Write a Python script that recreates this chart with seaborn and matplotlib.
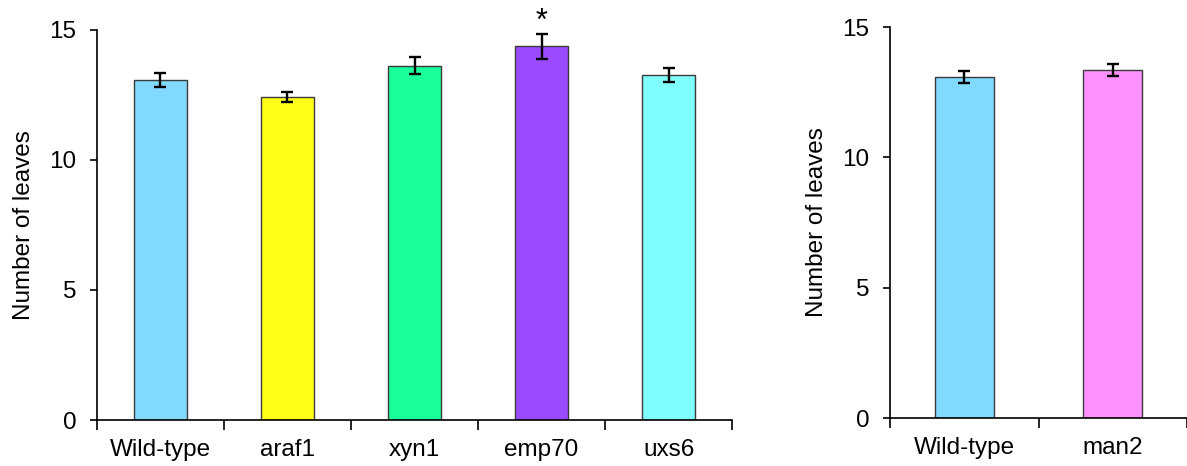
import numpy as np
import pandas as pd
import matplotlib.pyplot as plt
import seaborn as sns

# left panel
genotypes_a = ["Wild-type", "araf1", "xyn1", "emp70", "uxs6"]
leaves_a = [13.08, 12.42, 13.62, 14.38, 13.27]
err_a = [0.26, 0.18, 0.33, 0.48, 0.28]
colors_a = ["#82D9FF", "#FFFF1A", "#1AFF9A", "#9B4BFF", "#80FFFF"]
signif_a = ["", "", "", "*", ""]

# right panel
genotypes_b = ["Wild-type", "man2"]
leaves_b = [13.08, 13.35]
err_b = [0.24, 0.23]
colors_b = ["#82D9FF", "#FF91FF"]

sns.set_style("white")
plt.rcParams['font.family'] = ['Liberation Sans', 'DejaVu Sans']
plt.rcParams['text.color'] = 'black'
plt.rcParams['xtick.color'] = 'black'
plt.rcParams['ytick.color'] = 'black'
plt.rcParams['axes.labelcolor'] = 'black'

fig = plt.figure(figsize=(11.87, 4.66), dpi=100)
ax1 = fig.add_axes([0.0817, 0.0987, 0.535, 0.837])
ax2 = fig.add_axes([0.7498, 0.103, 0.2502, 0.839])


def draw_panel(ax, names, vals, errs, cols, width):
    df = pd.DataFrame({"genotype": names, "leaves": vals})
    sns.barplot(data=df, x="genotype", y="leaves", hue="genotype",
                palette=cols, width=width, saturation=1,
                edgecolor="#3a3a3a", linewidth=1, legend=False, ax=ax)
    xs = np.arange(len(names))
    ax.errorbar(xs, vals, yerr=errs, fmt="none", ecolor="black",
                elinewidth=1.7, capsize=4.5, capthick=1.7)
    ax.set_xlim(-0.5, len(names) - 0.5)
    ax.set_ylim(0, 15)
    ax.set_yticks([0, 5, 10, 15])
    ax.set_xlabel("")
    ax.set_ylabel("Number of leaves", fontsize=17.5, labelpad=10)
    ax.set_xticks(np.arange(len(names) + 1) - 0.5, minor=True)
    ax.tick_params(axis="x", which="major", length=0, labelsize=17.5, pad=14)
    ax.tick_params(axis="x", which="minor", length=7, width=1.2,
                   direction="out", bottom=True)
    ax.tick_params(axis="y", length=5, width=1.2, direction="out",
                   labelsize=17.5, pad=10, left=True)
    sns.despine(ax=ax)
    for s in ["left", "bottom"]:
        ax.spines[s].set_color("black")
        ax.spines[s].set_linewidth(1.2)


draw_panel(ax1, genotypes_a, leaves_a, err_a, colors_a, 0.41)
draw_panel(ax2, genotypes_b, leaves_b, err_b, colors_b, 0.40)
ax2.spines["bottom"].set_clip_on(False)

for i, mark in enumerate(signif_a):
    if mark:
        ax1.text(i, leaves_a[i] + err_a[i] + 0.45, mark, ha="center",
                 va="center", fontsize=22, clip_on=False)

fig.savefig("out.png", dpi=100)
